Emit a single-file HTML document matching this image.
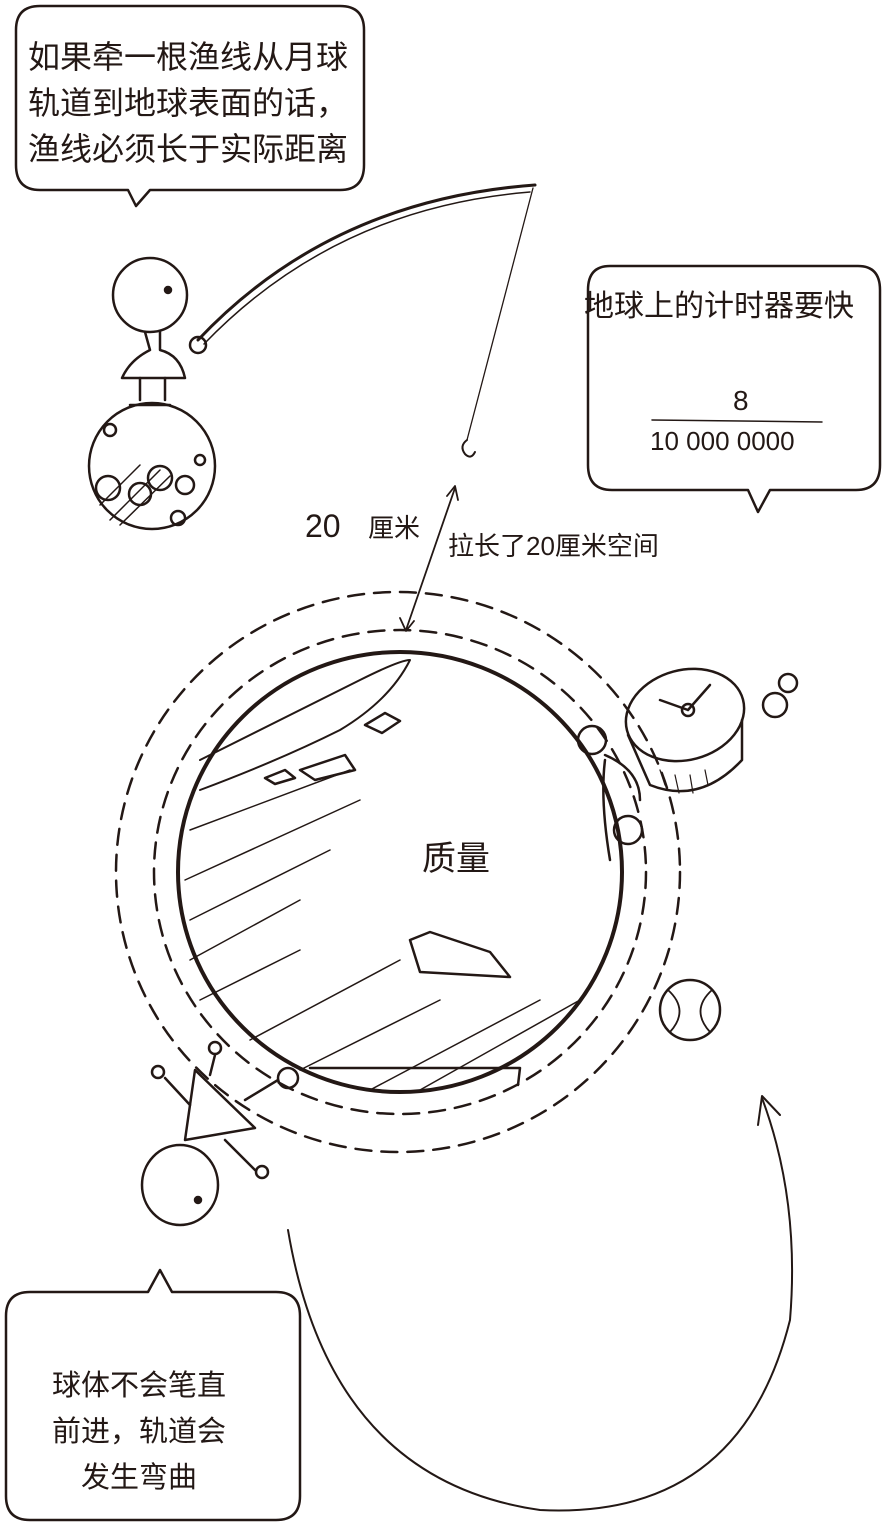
<!DOCTYPE html>
<html><head><meta charset="utf-8"><style>
html,body{margin:0;padding:0;background:#fff;}
svg{display:block}
text{font-family:"Liberation Sans","Noto Sans CJK SC",sans-serif;fill:#231815;}
</style></head><body>
<svg width="885" height="1527" viewBox="0 0 885 1527" xmlns="http://www.w3.org/2000/svg">
<g fill="none" stroke="#231815" stroke-width="2.5" stroke-linecap="round" stroke-linejoin="round">
<path d="M40 6 H340 Q364 6 364 30 V165 Q364 190 340 190 H150 L136 206 L128 190 H40 Q16 190 16 165 V30 Q16 6 40 6 Z"/>
<path d="M610 266 H858 Q880 266 880 290 V465 Q880 490 856 490 H770 L758 512 L748 490 H612 Q588 490 588 465 V290 Q588 266 610 266 Z"/>
<line x1="652" y1="420" x2="822" y2="422" stroke-width="1.5"/>
<path d="M30 1292 H148 L160 1270 L172 1292 H276 Q300 1292 300 1316 V1496 Q300 1520 276 1520 H30 Q6 1520 6 1496 V1316 Q6 1292 30 1292 Z"/>
<path d="M198 340 Q330 200 535 185" stroke-width="3"/>
<path d="M204 344 Q335 208 530 192" stroke-width="1.5"/>
<path d="M533 188 L467 440" stroke-width="1.3"/>
<path d="M467 440 q-8 6 -2 14 q6 6 10 -2" stroke-width="2"/>
<circle cx="198" cy="345" r="8"/>
<circle cx="150" cy="295" r="37"/>
<circle cx="168" cy="290" r="3" fill="#231815"/>
<path d="M145 332 L150 350 Q130 360 122 378 H185 Q180 355 160 350 L160 332"/>
<path d="M140 378 V400 M165 378 V400"/>
<path d="M130 405 h20 M150 405 h20"/>
<circle cx="152" cy="466" r="63"/>
<circle cx="108" cy="488" r="12"/><circle cx="140" cy="494" r="11"/><circle cx="160" cy="478" r="12"/><circle cx="185" cy="485" r="9"/>
<circle cx="110" cy="430" r="6"/><circle cx="200" cy="460" r="5"/><circle cx="178" cy="518" r="7"/>
<path d="M110 520 L160 470 M120 525 L170 476 M100 505 L140 465" stroke-width="1.5"/>
<path d="M455 488 L406 630" stroke-width="1.8"/>
<path d="M447 496 L455 486 L458 500 M400 618 L406 631 L414 621" stroke-width="1.8"/>
<ellipse cx="400" cy="872" rx="222" ry="220" stroke-width="4"/>
<ellipse cx="400" cy="872" rx="246" ry="242" stroke-dasharray="16 10" stroke-width="2.5"/>
<ellipse cx="398" cy="872" rx="282" ry="280" stroke-dasharray="16 10" stroke-width="2.5"/>
<path d="M200 760 Q280 720 360 680 Q400 660 410 660 Q390 700 340 730 Q280 760 200 790" stroke-width="2"/>
<path d="M365 725 l20 -12 l15 8 l-18 12z M265 778 l20 -8 l10 8 l-20 6z M300 770 l45 -15 l10 15 l-40 10z M410 940 l20 -8 l60 20 l20 25 l-90 -5z"/>
<path d="M190 830 L350 770 M185 880 L360 800 M190 920 L330 850 M190 960 L300 900 M200 1000 L300 950 M250 1040 L400 960 M300 1070 L440 1000 M370 1090 L540 1000 M420 1090 L580 1000" stroke-width="1.5"/>
<path d="M310 1068 L520 1068 L518 1085"/>
<ellipse cx="685" cy="715" rx="60" ry="45" transform="rotate(-15 685 715)"/>
<path d="M628 735 L650 785 Q700 805 742 760 L742 720" />
<path d="M660 770 l5 15 M675 775 l4 18 M690 775 l3 18 M705 770 l3 15" stroke-width="1.2"/>
<path d="M688 710 L660 700 M688 710 L710 685" stroke-width="2.5"/>
<circle cx="688" cy="710" r="6"/>
<circle cx="775" cy="705" r="12"/><circle cx="788" cy="683" r="9"/>
<circle cx="592" cy="740" r="14"/><circle cx="628" cy="830" r="14"/>
<path d="M605 755 Q640 770 640 800 M605 760 Q600 800 610 860"/>
<circle cx="690" cy="1010" r="30"/>
<path d="M668 990 Q690 1010 670 1032 M712 990 Q690 1010 710 1032" stroke-width="1.8"/>
<ellipse cx="180" cy="1185" rx="38" ry="40"/>
<circle cx="198" cy="1200" r="3" fill="#231815"/>
<path d="M185 1140 L195 1070 L255 1128 Z"/>
<circle cx="215" cy="1048" r="6"/><circle cx="158" cy="1072" r="6"/><circle cx="288" cy="1078" r="10"/><circle cx="262" cy="1172" r="6"/>
<path d="M215 1055 L210 1075 M165 1078 L190 1105 M278 1080 L245 1100 M225 1140 L255 1170"/>
<path d="M288 1230 Q330 1480 540 1510 Q740 1520 790 1320 Q800 1200 762 1098" stroke-width="2"/>
<path d="M758 1125 L762 1096 L780 1115" stroke-width="2"/>
</g>
<g font-size="32">
<text x="28" y="68">如果牵一根渔线从月球</text>
<text x="28" y="114">轨道到地球表面的话，</text>
<text x="28" y="160">渔线必须长于实际距离</text>
</g>
<text x="584" y="316" font-size="30">地球上的计时器要快</text>
<text x="733" y="410" font-size="28">8</text>
<text x="650" y="450" font-size="26">10 000 0000</text>
<text x="305" y="537" font-size="32">20</text>
<text x="368" y="537" font-size="26">厘米</text>
<text x="448" y="555" font-size="26">拉长了20厘米空间</text>
<text x="422" y="870" font-size="34">质量</text>
<g font-size="29">
<text x="52" y="1395">球体不会笔直</text>
<text x="52" y="1441">前进，轨道会</text>
<text x="81" y="1487">发生弯曲</text>
</g>
</svg>
</body></html>
